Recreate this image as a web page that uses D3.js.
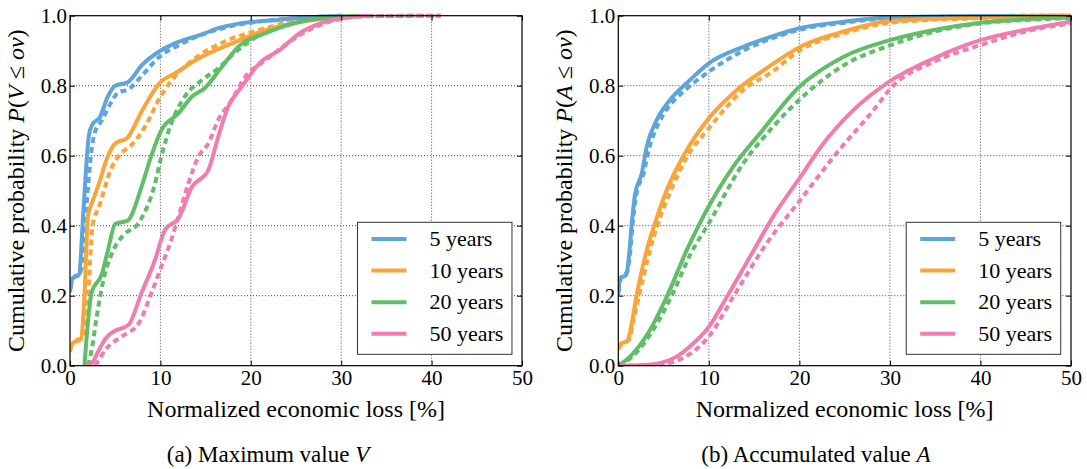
<!DOCTYPE html>
<html>
<head>
<meta charset="utf-8">
<script src="https://cdn.jsdelivr.net/npm/d3@7"></script>
<style>
  body { margin: 0; background: #fff; }
  svg text { font-family: "Liberation Serif", "DejaVu Serif", serif; fill: #000; }
</style>
</head>
<body>
<div id="chart"></div>
<script>
const W = 1087, H = 469;

const seriesNames = ["5 years", "10 years", "20 years", "50 years"];
const colors = ["#5DA5DA", "#FAA43A", "#60BD68", "#F17CB0"];
const xTicks = [0, 10, 20, 30, 40, 50];
const yTicks = [0, 0.2, 0.4, 0.6, 0.8, 1.0];

// (a) maximum value V : [loss %, probability]
const vSolid5 = [[0,0.21],[0.3,0.25],[1.0,0.26],[1.5,0.45],[2.1,0.66],[2.5,0.69],[3.3,0.71],[4.2,0.77],[5,0.80],[6.4,0.81],[8,0.86],[10,0.9],[12,0.925],[14.4,0.945],[16.5,0.965],[18.8,0.978],[23,0.988],[27,0.996],[30,1.0]];
const vDash5 = [[0,0.22],[0.4,0.25],[1.2,0.27],[1.8,0.45],[2.4,0.62],[2.8,0.67],[3.5,0.70],[4.5,0.75],[5.3,0.78],[6.5,0.79],[8,0.83],[10,0.885],[12,0.915],[14,0.94],[17,0.965],[20,0.98],[25,0.993],[30,1.0]];
const vSolid10 = [[0,0.04],[0.3,0.065],[1.2,0.075],[1.6,0.2],[2.0,0.43],[2.5,0.47],[3.2,0.52],[4.2,0.6],[5,0.635],[6.3,0.65],[8,0.73],[10,0.81],[11.6,0.835],[14.2,0.878],[17.9,0.921],[21.6,0.959],[25,0.98],[30,0.997]];
const vDash10 = [[0,0.05],[0.5,0.07],[1.4,0.08],[2.0,0.2],[2.5,0.4],[3.3,0.46],[4.5,0.56],[5.4,0.6],[6.8,0.63],[8.3,0.683],[10.1,0.773],[11.6,0.826],[14.2,0.885],[17,0.925],[21,0.96],[25,0.985],[30,1.0]];
const vSolid20 = [[1.6,0],[1.9,0.1],[2.4,0.21],[3.5,0.26],[4.2,0.33],[5,0.405],[6.4,0.415],[7.9,0.51],[9,0.6],[10.1,0.673],[12,0.721],[13.5,0.769],[14.9,0.793],[16.8,0.854],[18.6,0.911],[21.6,0.95],[25.8,0.985],[30,0.998],[32,1.0]];
const vDash20 = [[2.0,0],[2.5,0.06],[2.95,0.14],[3.7,0.245],[4.8,0.33],[5.9,0.373],[7.56,0.407],[9.4,0.52],[10.1,0.597],[11.2,0.692],[12.7,0.769],[14.6,0.816],[16.4,0.85],[18.5,0.9],[21,0.945],[25,0.98],[30,0.998],[41,1.0]];
const vSolid50 = [[1.8,0],[2.5,0.01],[3.1,0.04],[4,0.08],[5,0.10],[6.45,0.116],[7.9,0.207],[9.4,0.302],[10.5,0.388],[12,0.421],[13.5,0.511],[15.3,0.559],[16.4,0.654],[17.5,0.74],[19,0.797],[21,0.865],[23.2,0.902],[25.4,0.95],[27.7,0.978],[30.2,0.993],[33,1.0]];
const vDash50 = [[2.8,0],[4.2,0.054],[5.7,0.083],[7.6,0.121],[9.0,0.207],[10.1,0.283],[11.2,0.359],[12,0.426],[13.1,0.521],[14.2,0.597],[15.3,0.635],[16.4,0.702],[17.9,0.759],[19.4,0.826],[21.5,0.87],[24,0.92],[26.5,0.96],[29,0.985],[32,0.998],[41,1.0]];

// (b) accumulated value A
const aSolid5 = [[0,0.2],[0.2,0.25],[0.9,0.26],[1.2,0.32],[1.5,0.41],[1.85,0.49],[2.6,0.55],[3.14,0.626],[4.24,0.702],[5.7,0.759],[7.9,0.816],[10,0.864],[13.8,0.911],[17.5,0.945],[20,0.964],[24.9,0.983],[30,0.995],[40,0.999],[50,1.0]];
const aDash5 = [[0,0.21],[0.3,0.25],[1.0,0.27],[1.3,0.32],[1.6,0.41],[2.0,0.49],[2.8,0.55],[3.4,0.62],[4.4,0.69],[5.3,0.73],[7.5,0.79],[10,0.84],[13.8,0.90],[17.5,0.94],[20,0.96],[25,0.98],[30,0.993],[40,0.999],[50,1.0]];
const aSolid10 = [[0,0.045],[0.3,0.063],[1.0,0.07],[1.4,0.11],[2.03,0.202],[3.14,0.33],[4.05,0.407],[5.5,0.511],[7.2,0.6],[10,0.707],[13.1,0.788],[16.4,0.85],[20,0.91],[24.9,0.955],[30,0.985],[40,0.995],[50,0.999]];
const aDash10 = [[0,0.05],[0.5,0.065],[1.2,0.075],[1.6,0.12],[2.3,0.2],[3.4,0.32],[4.3,0.4],[5.8,0.5],[7.6,0.597],[10,0.678],[13.8,0.788],[17,0.84],[20,0.9],[25,0.95],[30,0.98],[40,0.993],[50,0.998]];
const aSolid20 = [[0,0],[1.3,0.026],[3.5,0.102],[5.35,0.197],[7.56,0.33],[9.77,0.445],[12.7,0.569],[15.66,0.664],[20,0.797],[24.9,0.883],[30,0.93],[35,0.96],[40,0.98],[45,0.99],[50,0.995]];
const aDash20 = [[0,0],[1.5,0.025],[3.8,0.1],[5.9,0.2],[8,0.32],[10,0.407],[13.8,0.578],[17,0.68],[20,0.76],[25,0.86],[30,0.915],[35,0.955],[40,0.978],[45,0.988],[50,0.993]];
const aSolid50 = [[0,0],[3,0.002],[5,0.01],[6.45,0.026],[8.3,0.064],[10,0.111],[12,0.197],[14.55,0.311],[17.1,0.426],[20,0.535],[22.65,0.635],[25.6,0.721],[30,0.813],[35,0.88],[40,0.93],[45,0.96],[50,0.983]];
const aDash50 = [[0,0],[4,0.002],[6,0.01],[8,0.035],[10,0.083],[12.7,0.197],[16.4,0.35],[20,0.47],[24.1,0.607],[28.5,0.74],[30,0.79],[35,0.87],[40,0.916],[45,0.955],[50,0.978]];

const svg = d3.select("#chart").append("svg")
  .attr("width", W)
  .attr("height", H);

function drawPanel(left, right, solids, dashes, varName, caption, capX) {
  const top = 15.7, bottom = 365.7;
  const x = d3.scaleLinear().domain([0, 50]).range([left, right]);
  const y = d3.scaleLinear().domain([0, 1]).range([bottom, top]);

  const g = svg.append("g");

  // grid
  g.selectAll(".gx").data(xTicks.slice(1, -1)).enter().append("line")
    .attr("x1", d => x(d)).attr("x2", d => x(d))
    .attr("y1", top).attr("y2", bottom)
    .attr("stroke", "#444").attr("stroke-width", 1).attr("stroke-dasharray", "1,2");
  g.selectAll(".gy").data(yTicks.slice(1, -1)).enter().append("line")
    .attr("x1", left).attr("x2", right)
    .attr("y1", d => y(d)).attr("y2", d => y(d))
    .attr("stroke", "#444").attr("stroke-width", 1).attr("stroke-dasharray", "1,2");

  const line = d3.line()
    .x(d => x(d[0]))
    .y(d => y(d[1]))
    .curve(d3.curveMonotoneX);

  const clipId = "clip" + Math.round(left);
  svg.append("clipPath").attr("id", clipId).append("rect")
    .attr("x", left).attr("y", top - 3).attr("width", right - left).attr("height", bottom - top + 3);

  const curves = g.append("g").attr("clip-path", `url(#${clipId})`);

  dashes.forEach((s, i) => {
    curves.append("path")
      .datum(s)
      .attr("fill", "none")
      .attr("stroke", colors[i])
      .attr("stroke-width", 4)
      .attr("stroke-dasharray", "6,4")
      .attr("d", line);
  });
  solids.forEach((s, i) => {
    curves.append("path")
      .datum(s)
      .attr("fill", "none")
      .attr("stroke", colors[i])
      .attr("stroke-width", 4)
      .attr("d", line);
  });

  // axes, ticks pointing inward
  g.append("g")
    .attr("transform", `translate(0, ${bottom})`)
    .call(d3.axisBottom(x).tickValues(xTicks).tickFormat(d3.format("d")).tickSize(-5).tickPadding(4))
    .call(a => a.select(".domain").remove())
    .selectAll("text")
    .style("font-size", "21px")
    .style("font-family", "Liberation Serif");

  g.append("g")
    .attr("transform", `translate(${left}, 0)`)
    .call(d3.axisLeft(y).tickValues(yTicks).tickFormat(d3.format(".1f")).tickSize(-5).tickPadding(3))
    .call(a => a.select(".domain").remove())
    .selectAll("text")
    .style("font-size", "21px")
    .style("font-family", "Liberation Serif");

  g.append("g")
    .attr("transform", `translate(0, ${top})`)
    .call(d3.axisTop(x).tickValues(xTicks).tickFormat("").tickSize(-5))
    .call(a => a.select(".domain").remove());

  g.append("g")
    .attr("transform", `translate(${right}, 0)`)
    .call(d3.axisRight(y).tickValues(yTicks).tickFormat("").tickSize(-5))
    .call(a => a.select(".domain").remove());

  g.append("rect")
    .attr("x", left).attr("y", top)
    .attr("width", right - left).attr("height", bottom - top)
    .attr("fill", "none").attr("stroke", "#000").attr("stroke-width", 1.2);

  // legend
  const lx = x(31.8), ly = 222.3;
  const lg = g.append("g");
  lg.append("rect")
    .attr("x", lx).attr("y", ly)
    .attr("width", 154.5).attr("height", 132)
    .attr("fill", "#fff").attr("stroke", "#333").attr("stroke-width", 1);
  seriesNames.forEach((name, i) => {
    const yy = ly + 16.7 + i * 31.6;
    lg.append("line")
      .attr("x1", lx + 14).attr("x2", lx + 49)
      .attr("y1", yy).attr("y2", yy)
      .attr("stroke", colors[i]).attr("stroke-width", 4);
    lg.append("text")
      .attr("x", lx + 72).attr("y", yy + 7)
      .style("font-size", "22px")
      .text(name);
  });

  // axis labels
  svg.append("text")
    .attr("x", (left + right) / 2).attr("y", 417)
    .attr("text-anchor", "middle")
    .style("font-size", "24px")
    .text("Normalized economic loss [%]");

  const yl = svg.append("text")
    .attr("transform", `translate(${left - 46}, ${(top + bottom) / 2}) rotate(-90)`)
    .attr("text-anchor", "middle")
    .style("font-size", "24px");
  yl.append("tspan").text("Cumulative probability ");
  yl.append("tspan").style("font-style", "italic").text("P");
  yl.append("tspan").text("(");
  yl.append("tspan").style("font-style", "italic").text(varName);
  yl.append("tspan").text(" \u2264 ");
  yl.append("tspan").style("font-style", "italic").text("ov");
  yl.append("tspan").text(")");

  const cp = svg.append("text")
    .attr("x", capX).attr("y", 462)
    .attr("text-anchor", "middle")
    .style("font-size", "23px");
  cp.append("tspan").text(caption + " ");
  cp.append("tspan").style("font-style", "italic").text(varName);
}

drawPanel(70, 522, [vSolid5, vSolid10, vSolid20, vSolid50], [vDash5, vDash10, vDash20, vDash50],
  "V", "(a) Maximum value", 268);
drawPanel(618.3, 1071, [aSolid5, aSolid10, aSolid20, aSolid50], [aDash5, aDash10, aDash20, aDash50],
  "A", "(b) Accumulated value", 816);
</script>
</body>
</html>
